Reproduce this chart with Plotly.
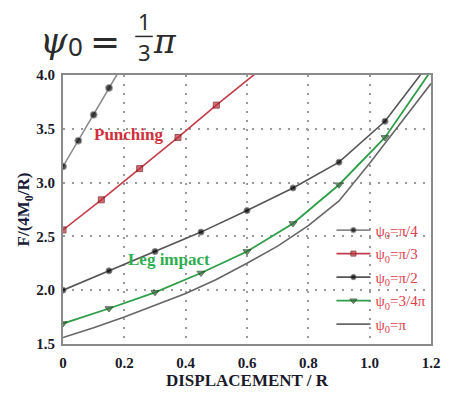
import plotly.graph_objects as go

# Displacement samples (x / R) and normalised force F/(4M0/R) per opening angle
x_pi4 = [0.0, 0.05, 0.10, 0.15, 0.20]
f_pi4 = [3.15, 3.39, 3.63, 3.88, 4.12]

x_pi3 = [0.0, 0.125, 0.25, 0.375, 0.5, 0.7]
f_pi3 = [2.56, 2.84, 3.13, 3.42, 3.72, 4.18]

x_pi2 = [0.0, 0.15, 0.30, 0.45, 0.60, 0.75, 0.90, 1.05, 1.20]
f_pi2 = [2.00, 2.18, 2.36, 2.54, 2.74, 2.95, 3.19, 3.57, 4.13]

x_3pi4 = [0.0, 0.15, 0.30, 0.45, 0.60, 0.75, 0.90, 1.05, 1.20]
f_3pi4 = [1.69, 1.83, 1.98, 2.16, 2.36, 2.62, 2.98, 3.42, 4.04]

x_pi = [0.0, 0.1, 0.2, 0.3, 0.4, 0.5, 0.6, 0.7, 0.8, 0.9, 1.0, 1.1, 1.2]
f_pi = [1.56, 1.65, 1.75, 1.86, 1.97, 2.10, 2.25, 2.41, 2.60, 2.83, 3.18, 3.55, 3.92]

legend_names = ["ψ<sub>0</sub>=π/4", "ψ<sub>0</sub>=π/3", "ψ<sub>0</sub>=π/2",
                "ψ<sub>0</sub>=3/4π", "ψ<sub>0</sub>=π"]

x_ticks = [0, 0.2, 0.4, 0.6, 0.8, 1.0, 1.2]
x_tick_text = ["0", "0.2", "0.4", "0.6", "0.8", "1.0", "1.2"]
y_ticks = [1.5, 2.0, 2.5, 3.0, 3.5, 4.0]
y_tick_text = ["1.5", "2.0", "2.5", "3.0", "3.5", "4.0"]

W, H = 449, 396
L, R, T, B = 63, 9, 75, 42


def px(xp, yp):
    """Pixel position -> paper coordinates."""
    return (xp - L) / (W - L - R), 1 - (yp - T) / (H - T - B)


def sizes(n, s, hide_last=True):
    out = [s] * n
    if hide_last:
        out[-1] = 0
    return out


fig = go.Figure()

fig.add_trace(go.Scatter(
    x=x_pi4, y=f_pi4, name=legend_names[0], mode="lines+markers", legendgroup="a",
    line=dict(color="#8a8a8a", width=1.6),
    marker=dict(symbol="circle", color="black", size=sizes(len(x_pi4), 7))))

fig.add_trace(go.Scatter(
    x=x_pi3, y=f_pi3, name=legend_names[1], mode="lines+markers", legendgroup="b",
    line=dict(color="#c23b48", width=1.6),
    marker=dict(symbol="square", color="#c0303c", size=sizes(len(x_pi3), 6),
                line=dict(color="#6a1010", width=1))))

fig.add_trace(go.Scatter(
    x=x_pi2, y=f_pi2, name=legend_names[2], mode="lines+markers", legendgroup="c",
    line=dict(color="#555555", width=1.6),
    marker=dict(symbol="circle", color="black", size=sizes(len(x_pi2), 6))))

fig.add_trace(go.Scatter(
    x=x_3pi4, y=f_3pi4, name=legend_names[3], mode="lines+markers", legendgroup="d",
    line=dict(color="#2f9e48", width=1.8),
    marker=dict(symbol="triangle-down", color="#3a6a40", size=sizes(len(x_3pi4), 7),
                line=dict(color="#1a3a1a", width=1))))

fig.add_trace(go.Scatter(
    x=x_pi, y=f_pi, name=legend_names[4], mode="lines", legendgroup="e",
    line=dict(color="#666666", width=1.6)))

serif = "Liberation Serif"
tick_font = dict(family=serif, size=15, color="#1a1a2a")


def bold(labels):
    return ["<b>%s</b>" % t for t in labels]


fig.update_xaxes(
    range=[0, 1.2], tickvals=x_ticks, ticktext=bold(x_tick_text), tickfont=tick_font,
    showgrid=True, gridcolor="#9a9a9a", gridwidth=2, griddash="2px,7px",
    showline=True, linecolor="#8a8a8a", linewidth=2, mirror=True,
    zeroline=False, ticks="", ticklen=0, ticklabelstandoff=4,
    title=dict(text="<b>DISPLACEMENT / R</b>", standoff=4,
               font=dict(family=serif, size=17, color="#1a1a2a")))

fig.update_yaxes(
    range=[1.5, 4.0], tickvals=y_ticks, ticktext=bold(y_tick_text), tickfont=tick_font,
    showgrid=True, gridcolor="#9a9a9a", gridwidth=2, griddash="2px,7px",
    showline=True, linecolor="#8a8a8a", linewidth=2, mirror=True,
    zeroline=False, ticks="", ticklen=0, ticklabelstandoff=3,
    title=dict(text="<b>F/(4M<sub>0</sub>/R)</b>", standoff=2,
               font=dict(family=serif, size=17, color="#1a1a3a")))

anns = []
# in-plot labels
anns.append(dict(x=0.212, y=3.45, xref="x", yref="y", text="<b>Punching</b>", showarrow=False,
                 font=dict(family=serif, size=17, color="#d0303c")))
anns.append(dict(x=0.346, y=2.29, xref="x", yref="y", text="<b>Leg impact</b>", showarrow=False,
                 font=dict(family=serif, size=17, color="#2fae50")))

# heading: psi_0 = (1/3) pi
head_col = "#2b2b2b"
for text, xp, yp, size, fam in [
    ("<i>ψ</i>", 54, 40, 35, "DejaVu Serif"),
    ("0", 76, 45, 26, "Noto Sans"),
    ("=", 106, 40, 36, "DejaVu Sans"),
    ("1", 146, 19, 22, "Noto Sans"),
    ("3", 146, 51, 22, "Noto Sans"),
    ("<i>π</i>", 168, 40, 33, "DejaVu Serif"),
]:
    xx, yy = px(xp, yp)
    anns.append(dict(x=xx, y=yy, xref="paper", yref="paper", text=text, showarrow=False,
                     xanchor="center", yanchor="middle",
                     font=dict(family=fam, size=size, color=head_col)))

bx0, by = px(137, 35)
bx1, _ = px(155, 35)

fig.update_layout(
    width=W, height=H, margin=dict(l=L, r=R, t=T, b=B),
    paper_bgcolor="white", plot_bgcolor="white",
    annotations=anns,
    shapes=[dict(type="line", xref="paper", yref="paper", x0=bx0, x1=bx1, y0=by, y1=by,
                 line=dict(color=head_col, width=1.5))],
    legend=dict(x=px(338, 0)[0], y=px(0, 219)[1], xanchor="left", yanchor="top",
                bgcolor="rgba(0,0,0,0)", borderwidth=0, itemwidth=34,
                tracegroupgap=1,
                font=dict(family=serif, size=15, color="#e0404a")),
    showlegend=True,
)

fig.write_html("out.html")
